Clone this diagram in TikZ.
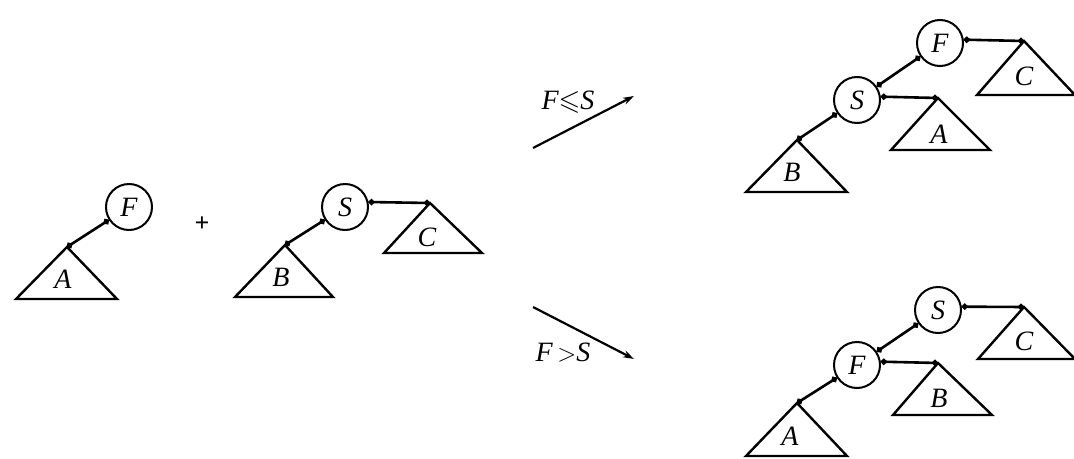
\documentclass[tikz,border=0pt]{standalone}
\usepackage{amssymb}
\usepackage{fontspec}
\setmainfont{Liberation Serif}
\usetikzlibrary{arrows.meta}
\begin{document}
\begin{tikzpicture}[x=1pt, y=-1pt, line width=2.4pt,
  heap/.style={draw, circle, minimum size=46pt, inner sep=0pt, line width=2pt, font=\fontsize{28}{30}\selectfont\itshape},
  ptr/.style={{Circle[length=6pt]}-{Circle[length=6pt]}, line width=2.6pt},
  tri/.style={line width=2.4pt, line join=miter},
  lab/.style={inner sep=0pt, font=\fontsize{28}{30}\selectfont\itshape},
  turn/.style={-{Stealth[length=11pt, width=7pt]}, line width=2.2pt}]
  \useasboundingbox (0,0) rectangle (1074,458);
  % left: single heap F with subtree A
  \node[heap] (f0) at (129,207) {F};
  \coordinate (a0) at (67,247);
  \draw[tri] (a0) -- ++(-51,52) -- ++(101,0) -- cycle;
  \path (a0) ++(-4,32) node[lab] (ta0) {A};
  \draw[ptr] (f0) -- (a0);
  \node[font=\fontsize{26}{28}\selectfont\bfseries] (plus) at (202,224) {+};
  % middle: heap S with subtrees B and C
  \node[heap] (s0) at (345,207) {S};
  \coordinate (b0) at (285,245);
  \coordinate (c0) at (430,203);
  \draw[tri] (b0) -- ++(-50,52) -- ++(98,0) -- cycle;
  \draw[tri] (c0) -- ++(-46,50) -- ++(98,0) -- cycle;
  \path (b0) ++(-4,32) node[lab] (tb0) {B};
  \path (c0) ++(-3,34) node[lab] (tc0) {C};
  \draw[ptr] (s0) -- (b0);
  \draw[ptr] (s0.12) -- (c0);
  % the two cases
  \coordinate (u0) at (533,148);
  \coordinate (u1) at (634,96);
  \coordinate (d0) at (533,307);
  \coordinate (d1) at (634,359);
  \draw[turn] (u0) -- (u1);
  \draw[turn] (d0) -- (d1);
  \node[lab] (le) at (568,102) {F$\leqslant$S};
  \node[lab] (gt) at (563,353) {F\,$>$S};
  % upper result
  \node[heap] (f1) at (940,43) {F};
  \node[heap] (s1) at (857,100) {S};
  \coordinate (c1) at (1024,41);
  \coordinate (a1) at (938,98);
  \coordinate (b1) at (797,140);
  \draw[tri] (c1) -- ++(-47,54) -- ++(98,0) -- cycle;
  \draw[tri] (a1) -- ++(-47,52) -- ++(99,0) -- cycle;
  \draw[tri] (b1) -- ++(-51,52) -- ++(101,0) -- cycle;
  \path (c1) ++(0,35) node[lab] (tc1) {C};
  \path (a1) ++(1,36) node[lab] (ta1) {A};
  \path (b1) ++(-5,32) node[lab] (tb1) {B};
  \draw[ptr] (f1) -- (s1);
  \draw[ptr] (f1.8) -- (c1);
  \draw[ptr] (s1.8) -- (a1);
  \draw[ptr] (s1) -- (b1);
  % lower result
  \node[heap] (s2) at (938,310) {S};
  \node[heap] (f2) at (857,365) {F};
  \coordinate (c2) at (1024,307);
  \coordinate (b2) at (938,363);
  \coordinate (a2) at (797,403);
  \draw[tri] (c2) -- ++(-46,52) -- ++(97,0) -- cycle;
  \draw[tri] (b2) -- ++(-45,52) -- ++(99,0) -- cycle;
  \draw[tri] (a2) -- ++(-51,53) -- ++(101,0) -- cycle;
  \path (c2) ++(0,34) node[lab] (tc2) {C};
  \path (b2) ++(1,35) node[lab] (tb2) {B};
  \path (a2) ++(-7,33) node[lab] (ta2) {A};
  \draw[ptr] (s2) -- (f2);
  \draw[ptr] (s2.8) -- (c2);
  \draw[ptr] (f2.8) -- (b2);
  \draw[ptr] (f2) -- (a2);
\end{tikzpicture}
\end{document}
